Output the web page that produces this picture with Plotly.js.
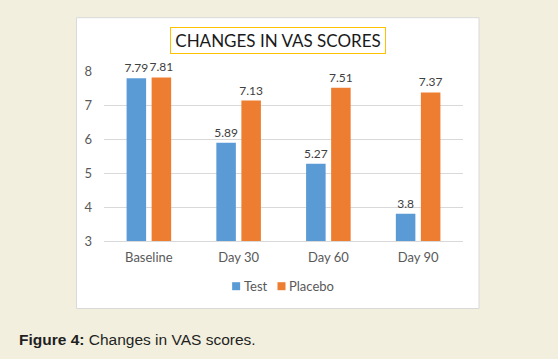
<!DOCTYPE html>
<html>
<head>
<meta charset="utf-8">
<script src="https://cdn.plot.ly/plotly-3.0.1.min.js"></script>
<style>
  html, body { margin: 0; padding: 0; background: #F2EFDE; }
  #chart { width: 558px; height: 359px; }
</style>
</head>
<body>
<div id="chart"></div>
<script>
const categories = ["Baseline", "Day 30", "Day 60", "Day 90"];
const testValues = [7.79, 5.89, 5.27, 3.8];
const placeboValues = [7.81, 7.13, 7.51, 7.37];
const seriesNames = ["Test", "Placebo"];
const seriesColors = ["#5B9BD5", "#ED7D31"];
const yTicks = [3, 4, 5, 6, 7, 8];

const W = 558, H = 359;
const plotL = 104, plotR = 462.6, plotT = 71.3, plotB = 241.3;
const pw = plotR - plotL, ph = plotB - plotT;
const px2x = p => (p - plotL) / pw;
const px2y = p => (plotB - p) / ph;

const FONT = "Lato, 'DejaVu Sans', sans-serif";
const labelFont = { family: FONT, size: 12, color: "#404040" };

const traces = [testValues, placeboValues].map((vals, i) => ({
  type: "bar", name: seriesNames[i], x: categories, y: vals,
  marker: { color: seriesColors[i] },
  text: vals.map(v => String(v)), textposition: "outside",
  textfont: labelFont, constraintext: "none", cliponaxis: false,
  hoverinfo: "x+y", showlegend: false
}));

// Compact legend (squares + names), placed like the reference
const legendSquares = [232, 277.3];
const legendShapes = seriesColors.map((c, i) => ({
  type: "rect", xref: "paper", yref: "paper", layer: "above",
  x0: px2x(legendSquares[i]), x1: px2x(legendSquares[i] + 8),
  y0: px2y(290.5), y1: px2y(282.5),
  fillcolor: c, line: { width: 0 }
}));
const legendAnnots = seriesNames.map((n, i) => ({
  xref: "paper", yref: "paper", x: px2x(legendSquares[i] + 9.5), y: px2y(286.5),
  xanchor: "left", yanchor: "middle", text: n, showarrow: false,
  font: { family: FONT, size: 13, color: "#595959" }
}));

const layout = {
  width: W, height: H, autosize: false,
  paper_bgcolor: "#F2EFDE", plot_bgcolor: "rgba(0,0,0,0)",
  margin: { l: plotL, r: W - plotR, t: plotT, b: H - plotB, pad: 0 },
  barmode: "group", bargap: 0.442, bargroupgap: 0.22,
  showlegend: false,
  xaxis: {
    type: "category", showgrid: false, zeroline: false,
    showline: true, linecolor: "#D9D9D9", linewidth: 1,
    ticks: "", ticklabelstandoff: 4,
    tickfont: { family: FONT, size: 13, color: "#595959" },
    fixedrange: true
  },
  yaxis: {
    range: [3, 8], tickvals: yTicks, ticktext: yTicks.map(String),
    showgrid: true, gridcolor: "#D9D9D9", gridwidth: 1, zeroline: false,
    showline: false, ticks: "", ticklabelstandoff: 11,
    tickfont: { family: FONT, size: 13, color: "#595959" },
    fixedrange: true
  },
  shapes: [
    {
      type: "rect", xref: "paper", yref: "paper", layer: "below",
      x0: px2x(76.5), x1: px2x(478.6), y0: px2y(308.8), y1: px2y(18),
      fillcolor: "#FFFFFF", line: { color: "#D9D9D9", width: 1 }
    }
  ].concat(legendShapes),
  annotations: [
    {
      xref: "paper", yref: "paper", x: px2x(277.5), y: px2y(41), xanchor: "center", yanchor: "middle",
      text: "CHANGES IN VAS SCORES", showarrow: false,
      font: { family: FONT, size: 17, color: "#1a1a1a" },
      bordercolor: "#FFC000", borderwidth: 1, borderpad: 1, width: 212, height: 23,
      bgcolor: "#FFFFFF"
    },
    {
      xref: "paper", yref: "paper", x: px2x(17), y: px2y(340), xanchor: "left", yanchor: "middle",
      text: "<b>Figure 4:</b> Changes in VAS scores.", showarrow: false,
      font: { family: "'Liberation Sans', Arial, sans-serif", size: 15.5, color: "#1f1f1f" }
    }
  ].concat(legendAnnots)
};

Plotly.newPlot("chart", traces, layout, { displayModeBar: false, staticPlot: true });
</script>
</body>
</html>
